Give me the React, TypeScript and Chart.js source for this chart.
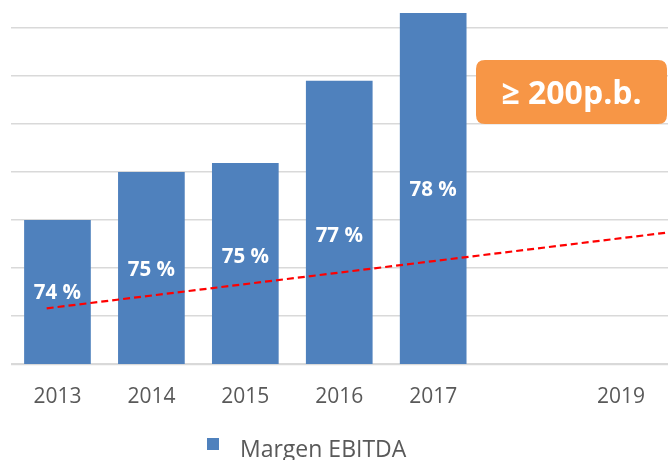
import React, { useEffect, useRef } from "react";
import { Chart, registerables } from "chart.js";

Chart.register(...registerables);

const categories = ["2013", "2014", "2015", "2016", "2017", "", "2019"];
const margin = [74.0, 75.0, 75.19, 76.9, 78.31, null, null];
const marginLabels = ["74 %", "75 %", "75 %", "77 %", "78 %"];
const trendX = [-0.115, 6.5];
const trendY = [72.16, 73.74];
const seriesName = "Margen EBITDA";
const badgeText = "≥ 200p.b.";

const FONT = "'Open Sans', 'DejaVu Sans', sans-serif";
const BAR_COLOR = "#4F81BD";
const TEXT_GRAY = "#595959";
const labelDy = [1, 2, -6, 14, 2];

const overlayPlugin = {
  id: "ebitdaOverlay",
  afterDraw(chart: any) {
    const ctx = chart.ctx;
    ctx.save();
    // value labels inside bars
    const meta = chart.getDatasetMeta(0);
    const bottom = chart.chartArea.bottom;
    ctx.fillStyle = "#ffffff";
    ctx.font = `bold 20.5px ${FONT}`;
    ctx.textAlign = "center";
    ctx.textBaseline = "middle";
    meta.data.forEach((el: any, i: number) => {
      if (margin[i] == null || !marginLabels[i]) return;
      const base = Math.min(el.base, bottom);
      const cy = (el.y + base) / 2 + (labelDy[i] || 0);
      ctx.fillText(marginLabels[i], el.x, cy);
    });
    // badge
    const bx = 476, by = 60, bw = 191, bh = 64, r = 9;
    ctx.fillStyle = "#F79646";
    ctx.beginPath();
    ctx.moveTo(bx + r, by);
    ctx.lineTo(bx + bw - r, by);
    ctx.quadraticCurveTo(bx + bw, by, bx + bw, by + r);
    ctx.lineTo(bx + bw, by + bh - r);
    ctx.quadraticCurveTo(bx + bw, by + bh, bx + bw - r, by + bh);
    ctx.lineTo(bx + r, by + bh);
    ctx.quadraticCurveTo(bx, by + bh, bx, by + bh - r);
    ctx.lineTo(bx, by + r);
    ctx.quadraticCurveTo(bx, by, bx + r, by);
    ctx.closePath();
    ctx.fill();
    ctx.fillStyle = "#ffffff";
    ctx.font = `bold 32px ${FONT}`;
    ctx.textAlign = "center";
    ctx.textBaseline = "alphabetic";
    ctx.fillText(badgeText, bx + bw / 2, 104);
    // legend
    ctx.fillStyle = BAR_COLOR;
    ctx.fillRect(207, 438, 12, 12);
    ctx.fillStyle = TEXT_GRAY;
    ctx.font = `23px ${FONT}`;
    ctx.textAlign = "left";
    ctx.fillText(seriesName, 240, 457);
    ctx.restore();
  },
};

export default function App() {
  const ref = useRef<HTMLCanvasElement>(null);
  useEffect(() => {
    if (!ref.current) return;
    const chart = new Chart(ref.current, {
      type: "bar",
      data: {
        labels: categories,
        datasets: [
          {
            type: "bar",
            label: seriesName,
            data: margin as any,
            backgroundColor: BAR_COLOR,
            barPercentage: 0.71,
            categoryPercentage: 1,
            grouped: false,
            order: 2,
            xAxisID: "x",
            yAxisID: "y",
          } as any,
          {
            type: "line",
            label: "trend",
            data: trendX.map((x, i) => ({ x, y: trendY[i] })) as any,
            borderColor: "#FF0000",
            borderWidth: 2.2,
            borderDash: [7, 4],
            pointRadius: 0,
            order: 1,
            xAxisID: "x2",
            yAxisID: "y",
            fill: false,
          } as any,
        ],
      },
      options: {
        animation: false,
        responsive: false,
        maintainAspectRatio: false,
        layout: { padding: { left: 10.5, top: 11.2, right: 0, bottom: 0 } },
        plugins: { legend: { display: false }, tooltip: { enabled: false } },
        scales: {
          x: {
            type: "category",
            offset: true,
            grid: { display: false, drawTicks: false },
            border: { display: false },
            ticks: {
              color: TEXT_GRAY,
              font: { family: FONT, size: 21 },
              padding: 20,
              maxRotation: 0,
              autoSkip: false,
            },
            afterFit: (s: any) => {
              s.height = 96;
            },
          },
          x2: {
            type: "linear",
            display: false,
            offset: false,
            grid: { offset: false },
            min: -0.5,
            max: 6.5,
          },
          y: {
            min: 71,
            max: 78.35,
            ticks: { display: false, stepSize: 1 },
            grid: {
              drawTicks: false,
              color: (c: any) =>
                Number.isInteger(c.tick?.value) ? "#D9D9D9" : "rgba(0,0,0,0)",
              lineWidth: (c: any) => (c.tick?.value === 71 ? 2.2 : 1.6),
            },
            border: { display: false },
            afterFit: (s: any) => {
              s.width = 0;
            },
          },
        },
      },
      plugins: [overlayPlugin],
    });
    return () => chart.destroy();
  }, []);
  return (
    <div style={{ position: "fixed", left: 0, top: 0, width: 668, height: 460, background: "#fff" }}>
      <canvas ref={ref} width={668} height={460} style={{ width: 668, height: 460, display: "block" }} />
    </div>
  );
}
